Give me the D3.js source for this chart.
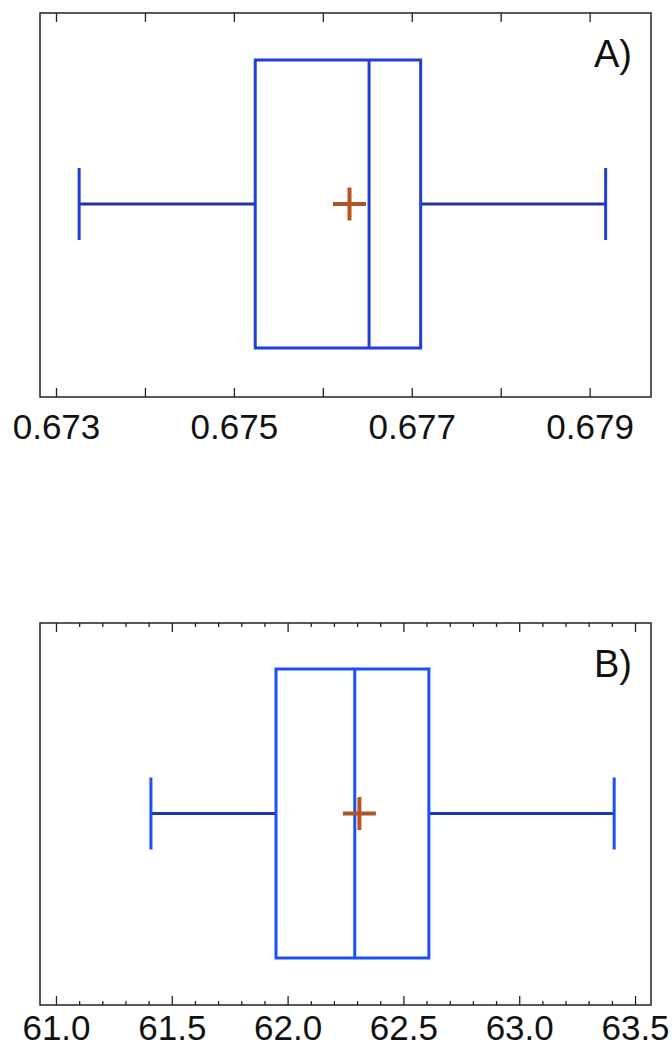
<!DOCTYPE html>
<html>
<head>
<meta charset="utf-8">
<script src="https://cdn.jsdelivr.net/npm/d3@7"></script>
<style>
  html, body { margin: 0; padding: 0; background: #fff; }
  svg { display: block; }
</style>
</head>
<body>
<svg id="chart" width="672" height="1048"></svg>
<script>
// Box-plot summaries for the two panels (A, B)
const panelNames   = ["A)", "B)"];
const lowerWhisker = [0.67326, 61.41];
const quartile1    = [0.67524, 61.95];
const medians      = [0.67652, 62.29];
const quartile3    = [0.67710, 62.61];
const upperWhisker = [0.67918, 63.41];
const means        = [0.67630, 62.31];

// Axis extents and tick values
const axisExtentA  = [0.67282, 0.67969];
const axisExtentB  = [60.931, 63.569];
const majorTicksA  = [0.673, 0.674, 0.675, 0.676, 0.677, 0.678, 0.679];
const tickLabelsA  = ["0.673", "0.675", "0.677", "0.679"];
const majorTicksB  = [61.0, 61.5, 62.0, 62.5, 63.0, 63.5];
const minorTicksB  = [61.1, 61.2, 61.3, 61.4, 61.6, 61.7, 61.8, 61.9,
                      62.1, 62.2, 62.3, 62.4, 62.6, 62.7, 62.8, 62.9,
                      63.1, 63.2, 63.3, 63.4];
const tickLabelsB  = ["61.0", "61.5", "62.0", "62.5", "63.0", "63.5"];

const svg = d3.select("#chart");
const FONT = "'Liberation Sans', Arial, sans-serif";

const layout = [
  { top: 13,  bottom: 397, boxTop: 60,  boxBottom: 348, capHalf: 36, labelPad: 17,
    boxColor: "#1f40d2", whiskerColor: "#24349f", extent: axisExtentA,
    major: majorTicksA, minor: [], labels: tickLabelsA,
    fmt: d => d3.format(".3f")(d) },
  { top: 623, bottom: 1005, boxTop: 669, boxBottom: 958, capHalf: 36, labelPad: 10,
    boxColor: "#1a52f2", whiskerColor: "#2236a8", extent: axisExtentB,
    major: majorTicksB, minor: minorTicksB, labels: tickLabelsB,
    fmt: d => d3.format(".1f")(d) }
];

const left = 40, right = 651;

layout.forEach((L, i) => {
  const g = svg.append("g");
  const x = d3.scaleLinear().domain(L.extent).range([left, right]);
  const yMid = (L.boxTop + L.boxBottom) / 2;

  // minor ticks (top and bottom)
  if (L.minor.length) {
    g.append("g").attr("transform", `translate(0,${L.bottom})`)
      .call(d3.axisBottom(x).tickValues(L.minor).tickSizeInner(-4).tickSizeOuter(0).tickFormat(""))
      .call(a => a.select(".domain").remove())
      .selectAll("line").attr("stroke", "#222").attr("stroke-width", 1.3);
    g.append("g").attr("transform", `translate(0,${L.top})`)
      .call(d3.axisTop(x).tickValues(L.minor).tickSizeInner(-4).tickSizeOuter(0).tickFormat(""))
      .call(a => a.select(".domain").remove())
      .selectAll("line").attr("stroke", "#222").attr("stroke-width", 1.3);
  }

  // major ticks with labels at the bottom
  const bottomAxis = g.append("g").attr("transform", `translate(0,${L.bottom})`)
    .call(d3.axisBottom(x).tickValues(L.major).tickSizeInner(-9).tickSizeOuter(0)
      .tickPadding(L.labelPad)
      .tickFormat(d => L.labels.includes(L.fmt(d)) ? L.fmt(d) : ""));
  bottomAxis.select(".domain").remove();
  bottomAxis.selectAll("line").attr("stroke", "#222").attr("stroke-width", 1.3);
  bottomAxis.selectAll("text")
    .attr("font-family", FONT).attr("font-size", 35).attr("fill", "#111");

  const topAxis = g.append("g").attr("transform", `translate(0,${L.top})`)
    .call(d3.axisTop(x).tickValues(L.major).tickSizeInner(-9).tickSizeOuter(0).tickFormat(""));
  topAxis.select(".domain").remove();
  topAxis.selectAll("line").attr("stroke", "#222").attr("stroke-width", 1.3);

  // frame
  g.append("rect")
    .attr("x", left).attr("y", L.top)
    .attr("width", right - left).attr("height", L.bottom - L.top)
    .attr("fill", "none").attr("stroke", "#222").attr("stroke-width", 1.5);

  // whiskers
  const lo = lowerWhisker[i], hi = upperWhisker[i];
  g.append("line")
    .attr("x1", x(lo)).attr("x2", x(quartile1[i]))
    .attr("y1", yMid).attr("y2", yMid)
    .attr("stroke", L.whiskerColor).attr("stroke-width", 3);
  g.append("line")
    .attr("x1", x(quartile3[i])).attr("x2", x(hi))
    .attr("y1", yMid).attr("y2", yMid)
    .attr("stroke", L.whiskerColor).attr("stroke-width", 3);
  [lo, hi].forEach(v => {
    g.append("line")
      .attr("x1", x(v)).attr("x2", x(v))
      .attr("y1", yMid - L.capHalf).attr("y2", yMid + L.capHalf)
      .attr("stroke", L.boxColor).attr("stroke-width", 3);
  });

  // box
  g.append("rect")
    .attr("x", x(quartile1[i])).attr("y", L.boxTop)
    .attr("width", x(quartile3[i]) - x(quartile1[i]))
    .attr("height", L.boxBottom - L.boxTop)
    .attr("fill", "none").attr("stroke", L.boxColor).attr("stroke-width", 3);

  // median
  g.append("line")
    .attr("x1", x(medians[i])).attr("x2", x(medians[i]))
    .attr("y1", L.boxTop).attr("y2", L.boxBottom)
    .attr("stroke", L.boxColor).attr("stroke-width", 3);

  // mean marker
  const mx = x(means[i]), arm = 16.5;
  g.append("line")
    .attr("x1", mx - arm).attr("x2", mx + arm).attr("y1", yMid).attr("y2", yMid)
    .attr("stroke", "#a8562a").attr("stroke-width", 4);
  g.append("line")
    .attr("x1", mx).attr("x2", mx).attr("y1", yMid - arm).attr("y2", yMid + arm)
    .attr("stroke", "#b8521e").attr("stroke-width", 4);

  // panel tag
  g.append("text")
    .attr("x", 632).attr("y", L.top + 54)
    .attr("text-anchor", "end")
    .attr("font-family", FONT).attr("font-size", 38).attr("fill", "#111")
    .text(panelNames[i]);
});
</script>
</body>
</html>
